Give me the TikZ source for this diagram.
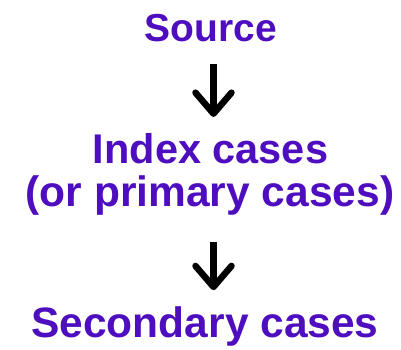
\documentclass[tikz,border=0pt]{standalone}
\usepackage{fontspec}
\setmainfont{Liberation Sans}
\usetikzlibrary{arrows.meta}
\definecolor{txtpurple}{RGB}{78,14,192}
\begin{document}
\begin{tikzpicture}[x=1pt,y=1pt,
  lbl/.style={anchor=base,inner sep=0pt,outer sep=0pt,text=txtpurple,font=\bfseries},
  arr/.style={line width=6.5pt,black,-{Straight Barb[length=21pt,width=36pt,line cap=round,round]}}]
\useasboundingbox[fill=white] (0,0) rectangle (401,-350);
\node[lbl,font=\bfseries\fontsize{39}{39}\selectfont] (src) at (211,-42) {Source};
\node[lbl,font=\bfseries\fontsize{41.5}{41.5}\selectfont] (idx) at (210.5,-163) {Index cases};
\node[lbl,font=\bfseries\fontsize{42.5}{42.5}\selectfont] (orp) at (210,-206) {(or primary cases)};
\node[lbl,font=\bfseries\fontsize{42.5}{42.5}\selectfont] (sec) at (205,-337) {Secondary cases};
\draw[arr,shorten <=21.5pt,shorten >=16pt] ([xshift=2.5pt]src.south) -- ([xshift=3pt]idx.north);
\draw[arr,shorten <=27pt,shorten >=16pt] ([xshift=3.5pt]orp.south) -- ([xshift=8.5pt]sec.north);
\end{tikzpicture}
\end{document}
